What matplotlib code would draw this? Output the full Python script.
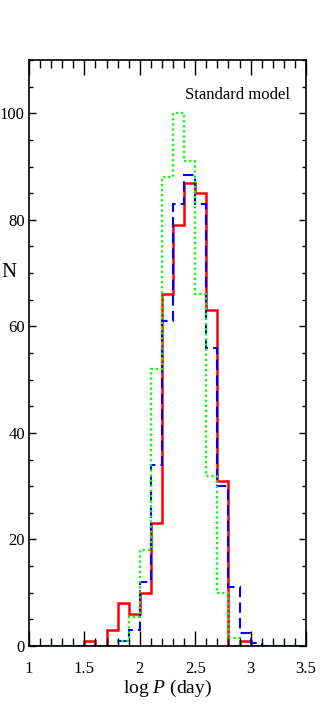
import numpy as np
import matplotlib
matplotlib.use("Agg")
import matplotlib.pyplot as plt
from matplotlib.ticker import MultipleLocator, FuncFormatter

plt.rcParams['font.family'] = ['Liberation Serif', 'DejaVu Serif']
plt.rcParams['mathtext.fontset'] = 'custom'
plt.rcParams['mathtext.rm'] = 'Liberation Serif'
plt.rcParams['mathtext.it'] = 'Liberation Serif:italic'

# histogram bins in log P (day), width 0.1 from 1.0 to 3.5
edges = np.round(np.arange(1.0, 3.51, 0.1), 2)

# red solid
red = [0, 0, 0, 0, 0, 1, 0, 3, 8, 6,
       10, 23, 66, 79, 87, 85, 63, 31, 0, 1,
       0, 0, 0, 0, 0]
# blue dashed
blue = [0, 0, 0, 0, 0, 0, 0, 0, 1, 3,
        12, 34, 61, 83, 88.5, 83, 56, 30, 11, 2.5,
        0.5, 0, 0, 0, 0]
# green dotted
green = [0, 0, 0, 0, 0, 0, 0, 0, 1, 5.5,
         18, 52, 88, 100, 91, 66, 32, 10, 1.5, 0,
         0, 0, 0, 0, 0]

fig = plt.figure(figsize=(3.32, 7.06), dpi=100)
ax = fig.add_axes([29/332, 1-646/706, 277/332, 586/706])

ax.stairs(red, edges, color='#ff0000', lw=1.8)
ax.stairs(blue, edges, color='#0000ff', lw=1.5, linestyle=(0, (5, 2.5)))
ax.stairs(green, edges, color='#00ff00', lw=1.6, linestyle=(0, (1, 1.3)))

ax.set_xlim(1, 3.5)
ax.set_ylim(0, 110)
ax.xaxis.set_major_locator(MultipleLocator(0.5))
ax.xaxis.set_minor_locator(MultipleLocator(0.1))
ax.yaxis.set_major_locator(MultipleLocator(20))
ax.yaxis.set_minor_locator(MultipleLocator(5))
ax.xaxis.set_major_formatter(FuncFormatter(lambda v, p: '%g' % v))

ax.tick_params(which='both', direction='in', top=True, right=True,
               width=1.0, labelsize=12)
ax.tick_params(axis='x', which='major', length=11, pad=11)
ax.tick_params(axis='x', which='minor', length=5.5)
ax.tick_params(axis='y', which='major', length=5, pad=3)
ax.tick_params(axis='y', which='minor', length=3)
for s in ax.spines.values():
    s.set_linewidth(1.2)

ax.set_xlabel('log $P$ (day)', fontsize=14)
ax.xaxis.set_label_coords(0.5, -0.054)
ax.set_ylabel('N', fontsize=15, rotation=0, va='center', ha='center')
ax.yaxis.set_label_coords(-0.072, 0.638)

ax.text(0.942, 0.94, 'Standard model', transform=ax.transAxes,
        ha='right', va='center', fontsize=12)

fig.savefig('out.png', dpi=100)
